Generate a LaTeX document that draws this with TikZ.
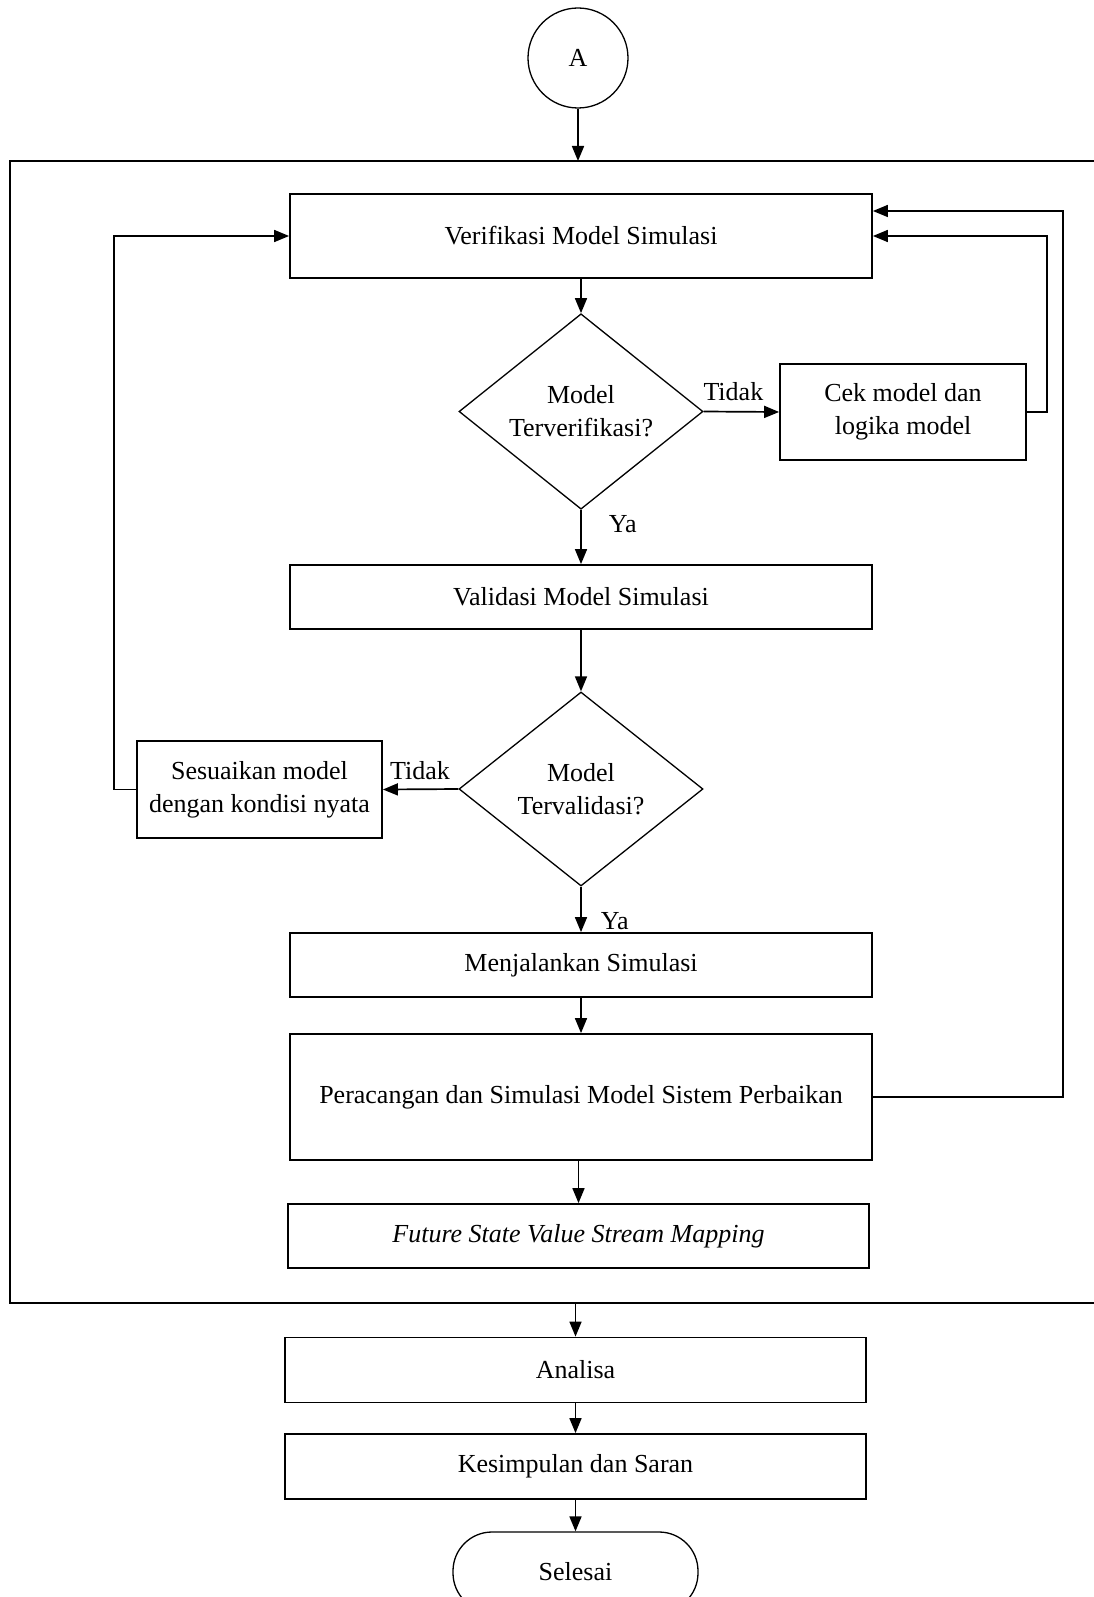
\documentclass[tikz,border=0pt]{standalone}
\usepackage{fontspec}
\setmainfont{Liberation Serif}
\usetikzlibrary{arrows.meta,shapes.geometric}
\newcommand{\fsz}{\fontsize{26}{33}\selectfont}
\begin{document}
\begin{tikzpicture}[x=1pt,y=-1pt,
  box/.style={draw, line width=1.8pt, inner sep=0pt, align=center, font=\fsz},
  dec/.style={draw, diamond, line width=1.3pt, inner sep=0pt, align=center, font=\fsz},
  arr/.style={-{Triangle[length=15pt,width=12pt]}, line width=1.7pt},
  lbl/.style={inner sep=0pt, font=\fsz}
]
\useasboundingbox (0,0) rectangle (1094,1597);
\clip (0,0) rectangle (1094,1597);

% outer frame
\draw[line width=1.8pt] (1200,161) -| (10,1303) -- (1200,1303);

\node[draw, circle, line width=1.3pt, minimum size=100pt, inner sep=0pt, font=\fsz] (A) at (578,58) {A};
\coordinate (ftop) at (578,161);
\coordinate (fbot) at (575.5,1303);

\node[box, minimum width=582pt, minimum height=84pt] (ver) at (581,236) {Verifikasi Model Simulasi};
\node[dec, minimum width=244pt, minimum height=194pt] (d1) at (581,411.5) {Model\\Terverifikasi?};
\node[box, minimum width=246pt, minimum height=96pt] (cek) at (903,412) {Cek model dan\\logika model};
\node[box, minimum width=582pt, minimum height=64pt] (val) at (581,597) {Validasi Model Simulasi};
\node[dec, minimum width=244pt, minimum height=194pt] (d2) at (581,789) {Model\\Tervalidasi?};
\node[box, minimum width=245pt, minimum height=97pt] (ses) at (259.5,789.5) {Sesuaikan model\\dengan kondisi nyata};
\node[box, minimum width=582pt, minimum height=64pt] (men) at (581,965) {Menjalankan Simulasi};
\node[box, minimum width=582pt, minimum height=126pt] (per) at (581,1097) {Peracangan dan Simulasi Model Sistem Perbaikan};
\node[box, minimum width=581pt, minimum height=64pt] (fut) at (578.5,1236) {\itshape Future State Value Stream Mapping};
\node[box, minimum width=581pt, minimum height=65pt] (ana) at (575.5,1370) {Analisa};
\node[box, minimum width=581pt, minimum height=65pt] (kes) at (575.5,1466.5) {Kesimpulan dan Saran};
\node[draw, line width=1.3pt, rounded corners=39pt, inner sep=0pt, minimum width=245pt, minimum height=80pt, font=\fsz] (sel) at (575.5,1572) {Selesai};

\coordinate (r1) at (1047,236);
\coordinate (r2) at (1063,211);
\coordinate (l1) at (114,236);

\draw[arr] (A) -- (ftop);
\draw[arr] (ver) -- (d1);
\draw[arr] (d1.east) -- (cek.west) node[lbl, pos=0.5, above=10pt, xshift=-8pt] {Tidak};
\draw[arr] (d1.south) -- (val.north) node[lbl, pos=0.27, right=27pt] {Ya};
\draw[arr] (val) -- (d2);
\draw[arr] (d2.west) -- (ses.east) node[lbl, pos=0.35, above=9pt, xshift=-12pt] {Tidak};
\draw[arr] (d2.south) -- (men.north) node[lbl, pos=0.75, right=19pt] {Ya};
\draw[arr] (men) -- (per);
\draw[arr] (fut.north |- per.south) -- (fut.north);
\draw[arr] (fbot) -- (ana.north);
\draw[arr] (ana) -- (kes);
\draw[arr] (kes) -- (sel);

\draw[arr] (cek.east) -| (r1) -- (ver.east);
\draw[arr] (per.east) -| (r2) -- (ver.east |- r2);
\draw[arr] (ses.west) -| (l1) -- (ver.west);
\end{tikzpicture}
\end{document}
